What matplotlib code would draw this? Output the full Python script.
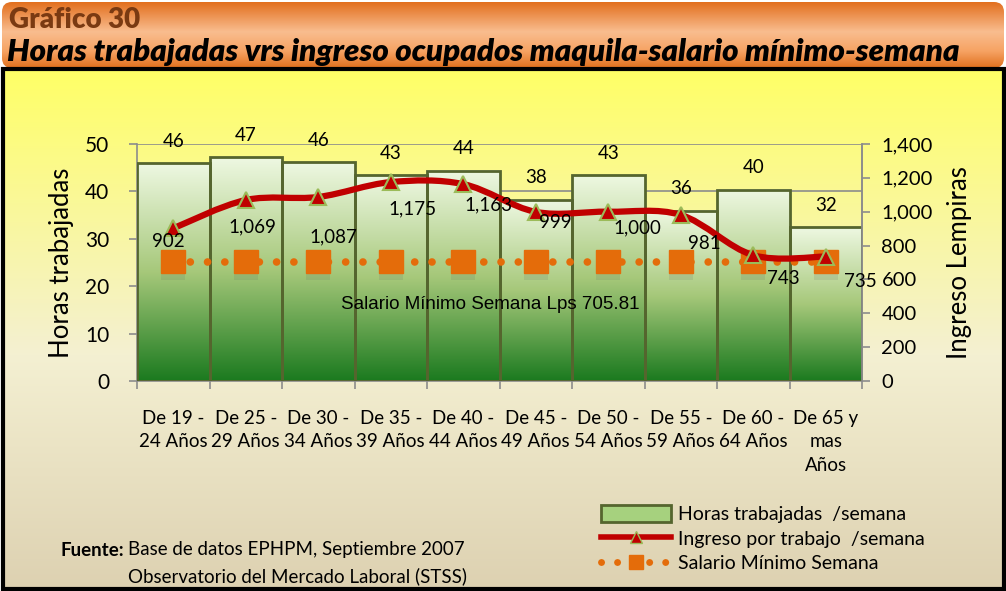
import numpy as np
import matplotlib
matplotlib.use("Agg")
import matplotlib.pyplot as plt
from matplotlib.path import Path
from matplotlib.patches import PathPatch, Rectangle, FancyBboxPatch, Patch
from matplotlib.lines import Line2D
from matplotlib.colors import LinearSegmentedColormap
import matplotlib.patheffects as pe

# ---------------- data ----------------
categories = ["De 19 -\n24 Años", "De 25 -\n29 Años", "De 30 -\n34 Años", "De 35 -\n39 Años",
              "De 40 -\n44 Años", "De 45 -\n49 Años", "De 50 -\n54 Años", "De 55 -\n59 Años",
              "De 60 -\n64 Años", "De 65 y\nmas\nAños"]
horas = [45.9, 47.2, 46.1, 43.4, 44.4, 38.2, 43.4, 35.9, 40.3, 32.4]
horas_labels = ["46", "47", "46", "43", "44", "38", "43", "36", "40", "32"]
ingreso = [902, 1069, 1087, 1175, 1163, 999, 1000, 981, 743, 735]
salario_minimo = [705.81] * 10
left_ticks = [0, 10, 20, 30, 40, 50]
right_ticks = [0, 200, 400, 600, 800, 1000, 1200, 1400]

# label offsets (pixels) for the income labels
ing_dx = [-5, 7, 15, 22, 25, 20, 29, 24, 30, 35]
ing_dy = [-13, -27, -40, -27, -21, -11, -16, -29, -23, -25]

W, H = 1006, 591
fig = plt.figure(figsize=(W / 100, H / 100), dpi=100)
FONT = ["Lato", "DejaVu Sans"]
plt.rcParams['font.family'] = FONT

# ---------------- background ----------------
bg = fig.add_axes([0, 0, 1, 1], zorder=-5)
bg.set_xlim(0, W)
bg.set_ylim(H, 0)
bg.axis("off")
fig.patch.set_facecolor("white")

cm_box = LinearSegmentedColormap.from_list("box", [(0, "#ffff66"), (0.55, "#f4f0d2"), (1, "#ddd1b1")])
grad = np.linspace(0, 1, 256).reshape(-1, 1)
bg.imshow(grad, cmap=cm_box, extent=[3, 1004, 590, 69], aspect="auto", zorder=0)
bg.add_patch(Rectangle((3, 69), 1001, 520, fill=False, edgecolor="black", lw=3, zorder=2))

cm_title = LinearSegmentedColormap.from_list("tit", [(0, "#e26f1e"), (0.45, "#f9bd8f"), (0.75, "#f6a262"), (1, "#e0701e")])
band = FancyBboxPatch((2, 2), 1002, 66, boxstyle="round,pad=0,rounding_size=10",
                      facecolor="none", edgecolor="none", transform=bg.transData)
bg.add_patch(band)
im = bg.imshow(grad, cmap=cm_title, extent=[0, W, 68, 2], aspect="auto", zorder=1)
im.set_clip_path(band)

fig.text(9 / W, 1 - 20 / H, "Gráfico 30", fontsize=20, fontweight="heavy", color="#7a3a12",
         va="center", ha="left", family=FONT)
fig.text(7 / W, 1 - 52 / H, "Horas trabajadas vrs ingreso ocupados maquila-salario mínimo-semana",
         fontsize=22.5, fontweight="heavy", style="italic", color="black", va="center", ha="left", family=FONT)

# ---------------- main axes ----------------
L, R, T, B = 137, 862, 144, 381
ax = fig.add_axes([L / W, 1 - B / H, (R - L) / W, (B - T) / H])
ax.patch.set_alpha(0)
n = len(categories)
x = np.arange(n)
ax.set_xlim(-0.5, n - 0.5)
ax.set_ylim(0, 50)
ax.set_yticks(left_ticks)
ax.yaxis.grid(True, color="#8c8c8c", lw=1.2)
ax.set_axisbelow(True)
ax.spines["top"].set_visible(False)
for s in ["left", "right", "bottom"]:
    ax.spines[s].set_color("#8c8c8c")
    ax.spines[s].set_linewidth(1.2)
ax.tick_params(axis="y", colors="#8c8c8c", labelcolor="black", labelsize=15, length=6, width=1.2, pad=14)
ax.set_xticks(np.arange(-0.5, n, 1))
ax.set_xticklabels([])
ax.tick_params(axis="x", which="major", colors="#8c8c8c", length=6, width=1.2)
ax.set_xticks(x, minor=True)
ax.set_xticklabels(categories, minor=True, fontsize=13.5, linespacing=1.45)
ax.tick_params(axis="x", which="minor", length=0, pad=21)
ax.set_ylabel("Horas trabajadas", fontsize=18.5, labelpad=8)

cm_bar = LinearSegmentedColormap.from_list("bar", [(0, "#eef8e2"), (0.5, "#a6c87a"), (1, "#1b7a1f")])
for i, h in enumerate(horas):
    ax.imshow(grad, cmap=cm_bar, extent=[i - 0.5, i + 0.5, 0, h], aspect="auto", zorder=2)
ax.bar(x, horas, width=1.0, facecolor="none", edgecolor="#55652e", linewidth=2, zorder=3)
ax.set_xlim(-0.5, n - 0.5)
ax.set_ylim(0, 50)
for i, (h, lab) in enumerate(zip(horas, horas_labels)):
    ax.annotate(lab, (i, h), xytext=(0, 16), textcoords="offset points", ha="center", va="center",
                fontsize=13.5, zorder=6)

# ---------------- right axis ----------------
ax2 = ax.twinx()
ax2.set_ylim(0, 1400)
ax2.set_yticks(right_ticks)
ax2.set_yticklabels([f"{v:,}" for v in right_ticks])
for s in ["top", "left", "bottom"]:
    ax2.spines[s].set_visible(False)
ax2.spines["right"].set_color("#8c8c8c")
ax2.spines["right"].set_linewidth(1.2)
ax2.tick_params(axis="y", colors="#8c8c8c", labelcolor="black", labelsize=14.5, length=6, width=1.2, pad=8)
ax2.set_ylabel("Ingreso Lempiras", fontsize=18.5, labelpad=10)

ax2.plot(x, salario_minimo, color="#e46c0a", lw=5.5, linestyle=(0, (0.01, 2.25)),
         dash_capstyle="round", zorder=4)
ax2.plot(x, salario_minimo, ls="none", marker="s", markersize=17, color="#e46c0a", zorder=5,
         path_effects=[pe.SimplePatchShadow(offset=(0, -5), shadow_rgbFace="#666666", alpha=0.15), pe.Normal()])
ax2.text(4.37, 449, "Salario Mínimo Semana Lps 705.81", ha="center", va="center", fontsize=13.5,
         family=["Liberation Sans", "DejaVu Sans"], zorder=6)

# smooth income line (Catmull-Rom -> cubic Bezier)
P = np.column_stack([x, ingreso]).astype(float)
verts = [P[0]]
codes = [Path.MOVETO]
for i in range(n - 1):
    p0 = P[i - 1] if i > 0 else P[i]
    p1, p2 = P[i], P[i + 1]
    p3 = P[i + 2] if i + 2 < n else P[i + 1]
    c1 = p1 + (p2 - p0) / 6
    c2 = p2 - (p3 - p1) / 6
    verts += [c1, c2, p2]
    codes += [Path.CURVE4] * 3
ax2.add_patch(PathPatch(Path(verts, codes), facecolor="none", edgecolor="#c00000", lw=4.5,
                        capstyle="round", zorder=6))
ax2.plot(x, ingreso, ls="none", marker="^", markersize=11, markerfacecolor="#c00000",
         markeredgecolor="#9bbb59", markeredgewidth=1.5, zorder=7)
for i, v in enumerate(ingreso):
    ax2.annotate(f"{v:,}", (i, v), xytext=(ing_dx[i] * 0.72, ing_dy[i] * 0.72), textcoords="offset points",
                 ha="center", va="center", fontsize=13.5, zorder=8)

# ---------------- legend ----------------
h_bar = Patch(facecolor="#a6d17e", edgecolor="#55652e", linewidth=2)
h_line = Line2D([], [], color="#c00000", lw=4, marker="^", markersize=8,
                markerfacecolor="#c00000", markeredgecolor="#9bbb59")
h_min = Line2D([], [], color="#e46c0a", lw=5, linestyle=(0, (0.01, 2.3)), dash_capstyle="round",
               marker="s", markersize=10, markevery=[1])
fig.legend([h_bar, h_line, h_min],
           ["Horas trabajadas  /semana", "Ingreso por trabajo  /semana", "Salario Mínimo Semana"],
           loc="upper left", bbox_to_anchor=(591 / W, 1 - 495 / H), frameon=False,
           fontsize=14, handlelength=3.6, handleheight=1.0, labelspacing=0.32, handletextpad=0.35,
           borderpad=0)

# ---------------- source ----------------
fig.text(60 / W, 1 - 550 / H, "Fuente:", fontsize=13.5, fontweight="bold", va="center", ha="left")
fig.text(128 / W, 1 - 550 / H, "Base de datos EPHPM, Septiembre 2007", fontsize=13.5, va="center", ha="left")
fig.text(128 / W, 1 - 576 / H, "Observatorio del Mercado Laboral (STSS)", fontsize=13.5, va="center", ha="left")

fig.savefig("out.png", dpi=100)
